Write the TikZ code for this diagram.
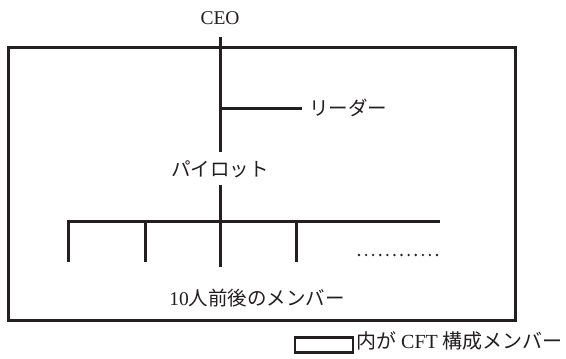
\documentclass[tikz,border=0pt]{standalone}
\usepackage{fontspec}
\setmainfont{Liberation Serif}
\newfontfamily\cjk{Noto Sans CJK JP}
\definecolor{ink}{RGB}{35,31,32}
\begin{document}
\begin{tikzpicture}[x=1pt,y=-1pt,
  ln/.style={draw=ink,line width=3pt},
  lbl/.style={text=ink,inner sep=0pt,font=\fontsize{19.5}{22}\selectfont}]
\useasboundingbox (0,0) rectangle (566,359);
% main frame
\draw[ln] (8,47) rectangle (515,320);
% labels
\node[lbl] (ceo) at (220,18) {CEO};
\node[lbl,anchor=west] (leader) at (309,108) {\cjk リーダー};
\node[lbl] (pilot) at (220,169) {\cjk パイロット};
\node[lbl] (members) at (257,298) {10\cjk 人前後のメンバー};
% coordinates
\coordinate (top) at (220,37);
\coordinate (lj) at (220,108);
\coordinate (le) at (302,108);
\coordinate (pa) at (220,152);
\coordinate (pb) at (220,185);
\coordinate (mid) at (220,267);
\coordinate (bl) at (68,221);
\coordinate (br) at (440,221);
\coordinate (d1) at (68,262);
\coordinate (d2a) at (145,221);
\coordinate (d2) at (145,262);
\coordinate (d4a) at (296,221);
\coordinate (d4) at (296,262);
% connectors
\draw[ln] (top) -- (pa);
\draw[ln] (lj) -- (le);
\draw[ln] (pb) -- (mid);
\draw[ln] (d1) -- (bl) -- (br);
\draw[ln] (d2a) -- (d2);
\draw[ln] (d4a) -- (d4);
% dots
\coordinate (dotA) at (359,255);
\coordinate (dotB) at (437,255);
\draw[draw=ink,line width=2.6pt,line cap=round,dash pattern=on 0pt off 7.09pt] (dotA) -- (dotB);
% legend
\node[draw=ink,line width=2.6pt,minimum width=58pt,minimum height=15pt,inner sep=0pt] (legbox) at (324,345) {};
\node[lbl,anchor=west,font=\fontsize{20}{22}\selectfont] (legend) at (356,341) {\cjk 内が{\rmfamily\ CFT }構成メンバー};
\end{tikzpicture}
\end{document}
